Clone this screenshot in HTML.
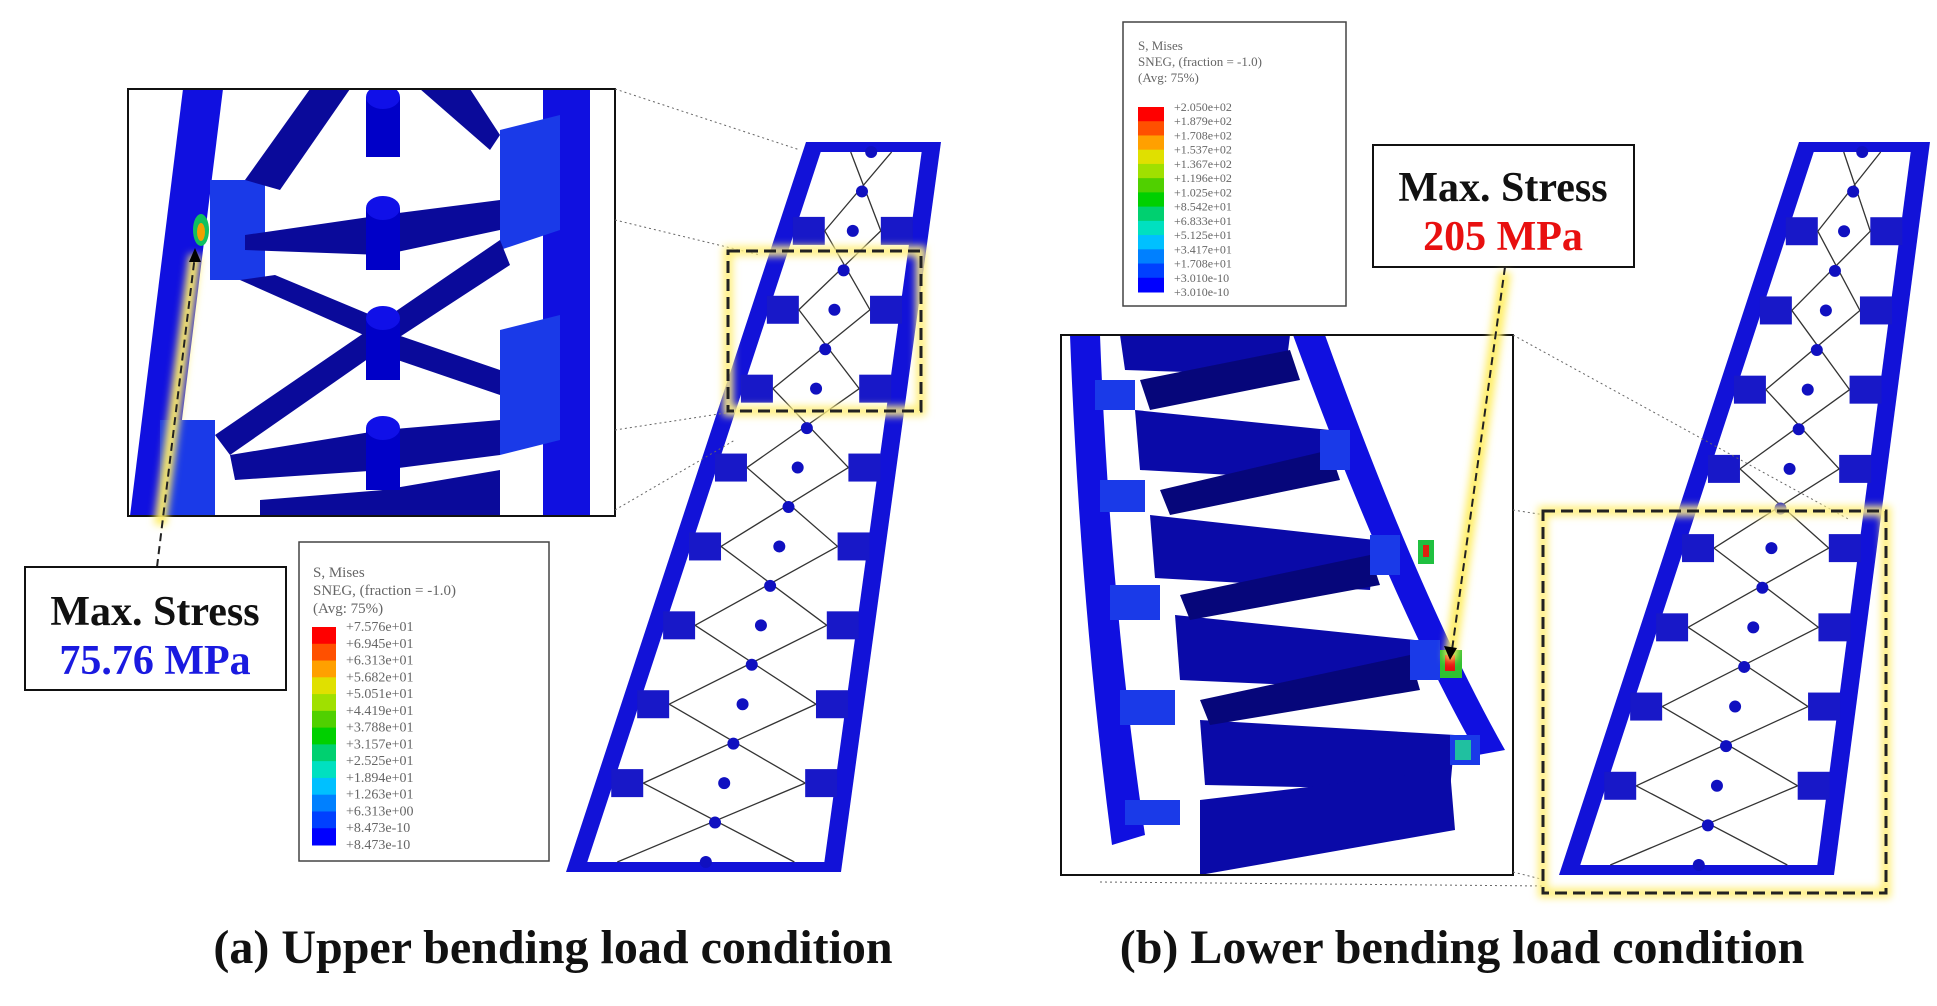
<!DOCTYPE html>
<html><head><meta charset="utf-8"><style>
html,body{margin:0;padding:0;background:#fff;}
svg{display:block;}
text{font-family:"Liberation Serif",serif;}
</style></head><body>
<svg id="s" width="1937" height="1006" viewBox="0 0 1937 1006" xmlns="http://www.w3.org/2000/svg">
<defs>
<filter id="glow" x="-50%" y="-50%" width="200%" height="200%"><feGaussianBlur stdDeviation="4"/></filter>
<clipPath id="ca"><rect x="128" y="89" width="487" height="427"/></clipPath>
<clipPath id="cb"><rect x="1061" y="335" width="452" height="540"/></clipPath>
</defs>

<!-- Inset A -->
<g clip-path="url(#ca)">
<rect x="128" y="89" width="487" height="427" fill="#fff"/>
<polygon points="183,89 223,89 170,516 130,516" fill="#1010e0"/>
<polygon points="543,89 590,89 590,516 543,516" fill="#1010e0"/>
<polygon points="500,130 560,115 560,230 500,250" fill="#1a3ae8"/>
<polygon points="500,330 560,315 560,440 500,455" fill="#1a3ae8"/>
<polygon points="210,180 265,180 265,280 210,280" fill="#1a3ae8"/>
<polygon points="160,420 215,420 215,516 160,516" fill="#1a3ae8"/>
<ellipse cx="201" cy="230" rx="8" ry="16" fill="#10c060"/>
<ellipse cx="201" cy="232" rx="4" ry="9" fill="#f0a000"/>
<g fill="#0a0a9a">
<polygon points="310,89 350,89 280,190 245,180"/>
<polygon points="420,89 470,89 500,135 490,150"/>
<polygon points="245,235 383,215 500,200 500,230 383,255 245,250"/>
<polygon points="240,280 275,275 383,320 375,340"/>
<polygon points="383,320 500,240 510,265 395,340"/>
<polygon points="215,435 383,320 395,340 230,455"/>
<polygon points="383,330 500,370 500,395 383,355"/>
<polygon points="230,455 383,430 500,420 500,455 383,470 235,480"/>
<polygon points="260,500 383,490 500,470 500,516 260,516"/>
</g>
<g fill="#0000c8">
<rect x="366" y="97" width="34" height="60"/><ellipse cx="383" cy="97" rx="17" ry="12" fill="#1010e8"/>
<rect x="366" y="208" width="34" height="62"/><ellipse cx="383" cy="208" rx="17" ry="12" fill="#1010e8"/>
<rect x="366" y="318" width="34" height="62"/><ellipse cx="383" cy="318" rx="17" ry="12" fill="#1010e8"/>
<rect x="366" y="428" width="34" height="62"/><ellipse cx="383" cy="428" rx="17" ry="12" fill="#1010e8"/>
</g>
</g>
<rect x="128" y="89" width="487" height="427" fill="none" stroke="#111" stroke-width="2"/>

<line x1="160" y1="525" x2="195" y2="255" stroke="#ffee66" stroke-width="12" filter="url(#glow)"/>
<line x1="157" y1="567" x2="195" y2="255" stroke="#222" stroke-width="2" stroke-dasharray="8,5"/>
<polygon points="195,248 189,262 201,262" fill="#000"/>

<rect x="25" y="567" width="261" height="123" fill="#fff" stroke="#111" stroke-width="2"/>
<text x="155" y="625" font-size="42" font-weight="bold" text-anchor="middle" fill="#111">Max. Stress</text>
<text x="155" y="674" font-size="42" font-weight="bold" text-anchor="middle" fill="#1a1ae0">75.76 MPa</text>

<rect x="299" y="542" width="250" height="319" fill="#fff" stroke="#444" stroke-width="1.5"/>
<g font-family="Liberation Sans" font-size="15" fill="#666">
<text x="313" y="577">S, Mises</text>
<text x="313" y="595">SNEG, (fraction = -1.0)</text>
<text x="313" y="613">(Avg: 75%)</text>
</g>
<g id="legA"></g>

<rect x="1123" y="22" width="223" height="284" fill="#fff" stroke="#444" stroke-width="1.5"/>
<g font-family="Liberation Sans" font-size="13" fill="#666">
<text x="1138" y="50">S, Mises</text>
<text x="1138" y="66">SNEG, (fraction = -1.0)</text>
<text x="1138" y="82">(Avg: 75%)</text>
</g>
<g id="legB"></g>

<rect x="1373" y="145" width="261" height="122" fill="#fff" stroke="#111" stroke-width="2"/>
<text x="1503" y="201" font-size="42" font-weight="bold" text-anchor="middle" fill="#111">Max. Stress</text>
<text x="1503" y="250" font-size="42" font-weight="bold" text-anchor="middle" fill="#e81010">205 MPa</text>

<g clip-path="url(#cb)">
<rect x="1061" y="335" width="452" height="540" fill="#fff"/>
<path d="M1070,335 L1100,335 Q1110,600 1145,835 L1112,845 Q1080,600 1070,335Z" fill="#1010e0"/>
<path d="M1293,335 L1325,335 Q1420,600 1505,750 L1478,755 Q1390,600 1293,335Z" fill="#1010e0"/>
<g fill="#0a0aa8">
<polygon points="1120,335 1290,335 1285,375 1125,370"/>
<polygon points="1135,410 1330,430 1325,480 1140,470"/>
<polygon points="1150,515 1375,540 1370,590 1155,578"/>
<polygon points="1175,615 1415,640 1410,690 1180,680"/>
<polygon points="1200,720 1455,735 1450,790 1205,785"/>
<polygon points="1200,800 1450,770 1455,830 1200,875"/>
</g>
<g fill="#06067a">
<polygon points="1140,380 1290,350 1300,380 1150,410"/>
<polygon points="1160,490 1330,450 1340,480 1170,515"/>
<polygon points="1180,595 1370,555 1380,585 1190,620"/>
<polygon points="1200,700 1410,655 1420,690 1210,725"/>
</g>
<g fill="#1a3ae8">
<rect x="1095" y="380" width="40" height="30"/>
<rect x="1100" y="480" width="45" height="32"/>
<rect x="1110" y="585" width="50" height="35"/>
<rect x="1120" y="690" width="55" height="35"/>
<rect x="1125" y="800" width="55" height="25"/>
<rect x="1320" y="430" width="30" height="40"/>
<rect x="1370" y="535" width="30" height="40"/>
<rect x="1410" y="640" width="30" height="40"/>
<rect x="1450" y="735" width="30" height="30"/>
</g>
<rect x="1418" y="540" width="16" height="24" fill="#20c040"/><rect x="1423" y="545" width="6" height="12" fill="#e02010"/>
<rect x="1440" y="650" width="22" height="28" fill="#30c030"/><rect x="1445" y="655" width="10" height="16" fill="#e81010"/>
<rect x="1455" y="740" width="16" height="20" fill="#20c0a0"/>
</g>
<rect x="1061" y="335" width="452" height="540" fill="none" stroke="#111" stroke-width="2"/>

<line x1="1505" y1="272" x2="1450" y2="660" stroke="#ffee66" stroke-width="12" filter="url(#glow)"/>
<line x1="1505" y1="267" x2="1452" y2="650" stroke="#222" stroke-width="2" stroke-dasharray="8,5"/>
<polygon points="1450,660 1444,646 1457,648" fill="#000"/>

<g id="beams"></g>

<g stroke="#666" stroke-width="1" stroke-dasharray="2,3" fill="none">
<line x1="615" y1="89" x2="800" y2="150"/>
<line x1="615" y1="220" x2="760" y2="255"/>
<line x1="615" y1="430" x2="745" y2="410"/>
<line x1="615" y1="510" x2="735" y2="440"/>
<line x1="1513" y1="335" x2="1850" y2="520"/>
<line x1="1513" y1="510" x2="1545" y2="515"/>
<line x1="1513" y1="872" x2="1545" y2="880"/>
<line x1="1100" y1="882" x2="1545" y2="886"/>
</g>

<rect x="728" y="251" width="193" height="160" fill="none" stroke="#fff080" stroke-width="10" filter="url(#glow)"/>
<rect x="728" y="251" width="193" height="160" fill="none" stroke="#222" stroke-width="3" stroke-dasharray="12,6"/>
<rect x="1543" y="511" width="343" height="382" fill="none" stroke="#fff080" stroke-width="10" filter="url(#glow)"/>
<rect x="1543" y="511" width="343" height="382" fill="none" stroke="#222" stroke-width="3" stroke-dasharray="12,6"/>

<text x="553" y="963" font-size="48" font-weight="bold" text-anchor="middle" fill="#111">(a) Upper bending load condition</text>
<text x="1462" y="963" font-size="48" font-weight="bold" text-anchor="middle" fill="#111">(b) Lower bending load condition</text>
</svg>
<script>
var NS="http://www.w3.org/2000/svg";
function el(p,t,a){var e=document.createElementNS(NS,t);for(var k in a)e.setAttribute(k,a[k]);p.appendChild(e);return e;}
function legend(id,x,y,w,h,vals,fs){
 var g=document.getElementById(id);
 var cols=["#ff0000","#ff5000","#ffa000","#e0e000","#a0e000","#50d000","#00d000","#00d070","#00e0c0","#00c0ff","#0080ff","#0040ff","#0000ff"];
 var sh=h/cols.length;
 for(var i=0;i<cols.length;i++){el(g,"rect",{x:x,y:y+i*sh,width:w,height:sh+0.5,fill:cols[i]});}
 for(var i=0;i<vals.length;i++){var t=el(g,"text",{x:x+w+10,y:y+i*sh+4,"font-size":fs,"font-family":"Liberation Sans",fill:"#666"});t.textContent=vals[i];}
}
legend("legA",312,627,24,218,["+7.576e+01","+6.945e+01","+6.313e+01","+5.682e+01","+5.051e+01","+4.419e+01","+3.788e+01","+3.157e+01","+2.525e+01","+1.894e+01","+1.263e+01","+6.313e+00","+8.473e-10","+8.473e-10"],14);
legend("legB",1138,107,26,185,["+2.050e+02","+1.879e+02","+1.708e+02","+1.537e+02","+1.367e+02","+1.196e+02","+1.025e+02","+8.542e+01","+6.833e+01","+5.125e+01","+3.417e+01","+1.708e+01","+3.010e-10","+3.010e-10"],12);
function beam(tl,tr,bl,br,yt,yb,rows){
 var g=document.getElementById("beams");
 var lx=function(y){var f=(y-yt)/(yb-yt);return tl+(bl-tl)*f;};
 var rx=function(y){var f=(y-yt)/(yb-yt);return tr+(br-tr)*f;};
 el(g,"polygon",{points:[tl,yt,tr,yt,br,yb,bl,yb].join(","),fill:"#1212d8"});
 var t=18;
 var ys=yt+10, ye=yb-10;
 el(g,"polygon",{points:[lx(ys)+t,ys,rx(ys)-t,ys,rx(ye)-t,ye,lx(ye)+t,ye].join(","),fill:"#fff"});
 var dy=(ye-ys)/rows;
 for(var i=0;i<=rows;i++){
  var y=ys+i*dy;
  if(i>0&&i<rows){
   el(g,"rect",{x:lx(y)+t-2,y:y-14,width:32,height:28,fill:"#1818c8"});
   el(g,"rect",{x:rx(y)-t-30,y:y-14,width:32,height:28,fill:"#1818c8"});
  }
  if(i<rows){
   var ym=y+dy/2;
   var cx=(lx(ym)+rx(ym))/2;
   var a1=lx(y)+t+30, b1=rx(y)-t-30, a2=lx(y+dy)+t+30, b2=rx(y+dy)-t-30;
   el(g,"line",{x1:a1,y1:y,x2:b2,y2:y+dy,stroke:"#333","stroke-width":1.3});
   el(g,"line",{x1:b1,y1:y,x2:a2,y2:y+dy,stroke:"#333","stroke-width":1.3});
   el(g,"circle",{cx:cx,cy:ym,r:6,fill:"#1010c0"});
  }
  el(g,"circle",{cx:(lx(y)+rx(y))/2,cy:y,r:6,fill:"#1010c0"});
 }
}
beam(806,941,566,841,142,872,9);
beam(1799,1930,1559,1834,142,875,9);
</script>
</body></html>
